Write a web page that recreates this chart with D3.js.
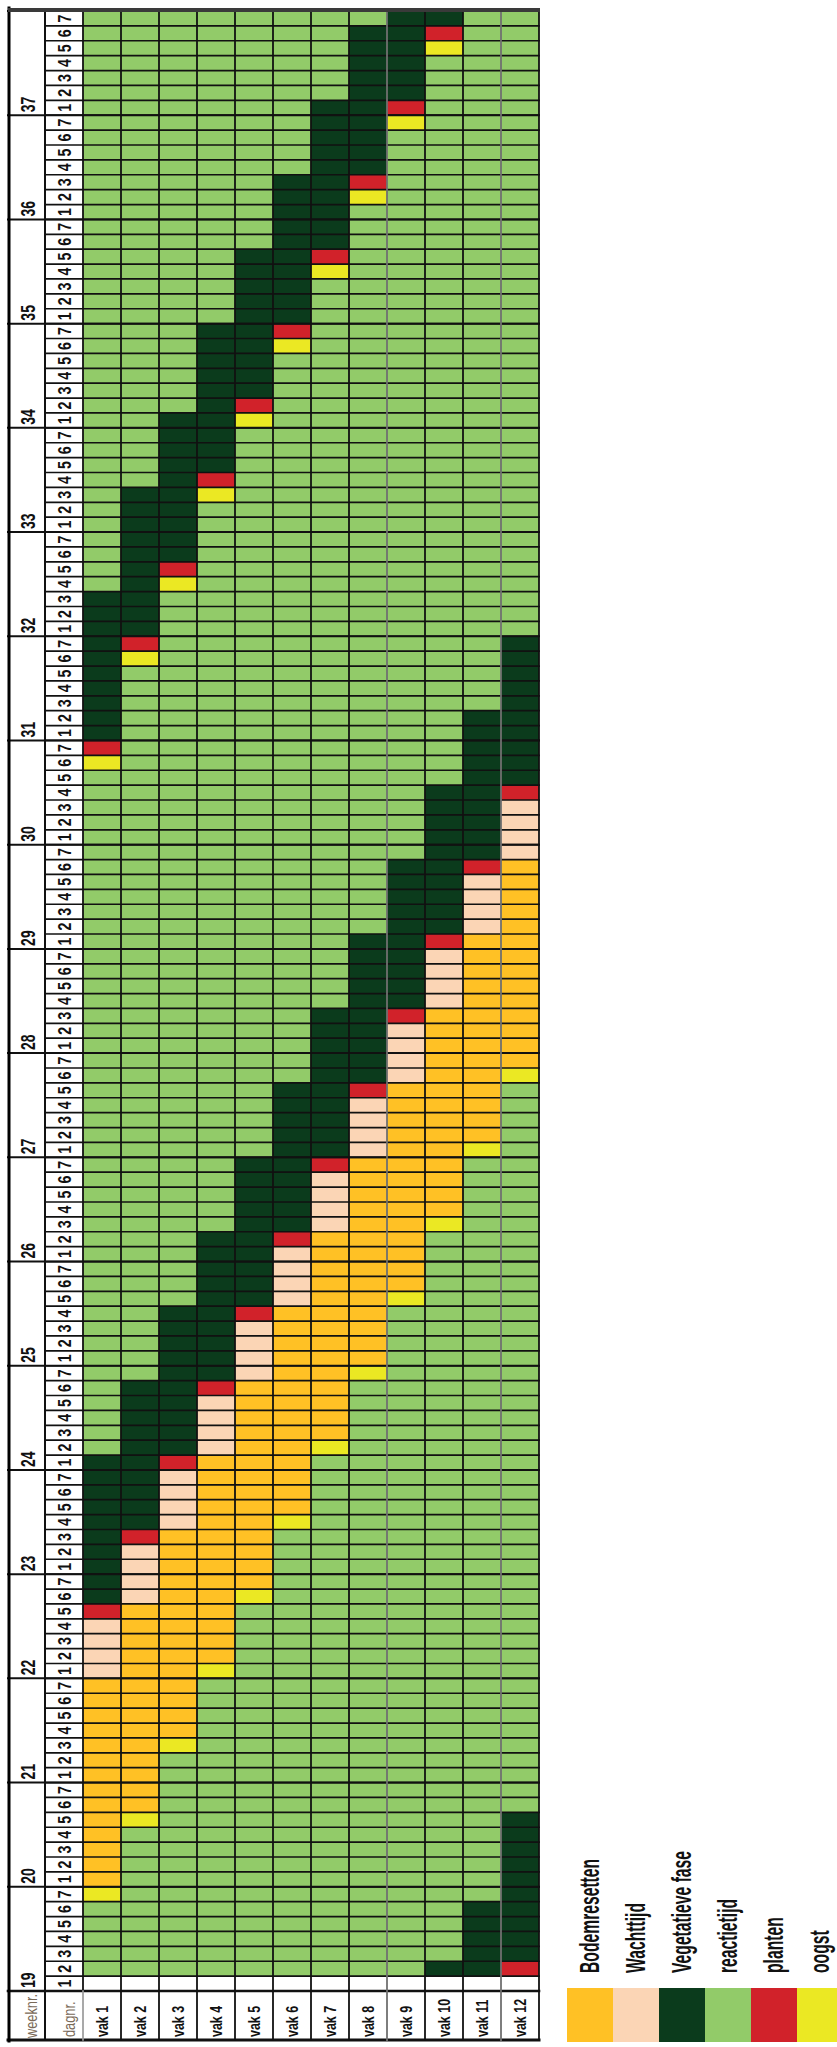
<!DOCTYPE html>
<html>
<head>
<meta charset="utf-8">
<script src="https://cdn.jsdelivr.net/npm/d3@7"></script>
<style>
  html, body { margin: 0; padding: 0; background: #ffffff; }
  svg { display: block; }
</style>
</head>
<body>
<svg id="chart" width="837" height="2047"></svg>
<script>
// ---------------- DATA ----------------
const vakNames = ["vak 1","vak 2","vak 3","vak 4","vak 5","vak 6","vak 7","vak 8","vak 9","vak 10","vak 11","vak 12"];
const weekNumbers = [19,20,21,22,23,24,25,26,27,28,29,30,31,32,33,34,35,36,37];
const dayNumbers = [1,2,3,4,5,6,7];
const headerWeek = "weeknr.";
const headerDay = "dagnr.";

// phase keys: B Bodemresetten, W Wachttijd, V Vegetatieve fase, R reactietijd, P planten, O oogst
const phaseKeys = ["B","W","V","R","P","O"];
const phaseLabels = ["Bodemresetten","Wachttijd","Vegetatieve fase","reactietijd","planten","oogst"];
const defaultPhase = "R";
const blankDays = ["19.1"];

// plans per vak: [phase, first day "week.day", last day "week.day"]
const vak1Plan  = [["O","19.7"],["B","20.1","21.7"],["W","22.1","22.4"],["P","22.5"],["V","22.6","24.1"],["O","30.6"],["P","30.7"],["V","31.1","32.3"]];
const vak2Plan  = [["O","20.5"],["B","20.6","22.5"],["W","22.6","23.2"],["P","23.3"],["V","23.4","24.6"],["O","31.6"],["P","31.7"],["V","32.1","33.3"]];
const vak3Plan  = [["O","21.3"],["B","21.4","23.3"],["W","23.4","23.7"],["P","24.1"],["V","24.2","25.4"],["O","32.4"],["P","32.5"],["V","32.6","34.1"]];
const vak4Plan  = [["O","22.1"],["B","22.2","24.1"],["W","24.2","24.5"],["P","24.6"],["V","24.7","26.2"],["O","33.3"],["P","33.4"],["V","33.5","34.7"]];
const vak5Plan  = [["O","22.6"],["B","22.7","24.6"],["W","24.7","25.3"],["P","25.4"],["V","25.5","26.7"],["O","34.1"],["P","34.2"],["V","34.3","35.5"]];
const vak6Plan  = [["O","23.4"],["B","23.5","25.4"],["W","25.5","26.1"],["P","26.2"],["V","26.3","27.5"],["O","34.6"],["P","34.7"],["V","35.1","36.3"]];
const vak7Plan  = [["O","24.2"],["B","24.3","26.2"],["W","26.3","26.6"],["P","26.7"],["V","27.1","28.3"],["O","35.4"],["P","35.5"],["V","35.6","37.1"]];
const vak8Plan  = [["O","24.7"],["B","25.1","26.7"],["W","27.1","27.4"],["P","27.5"],["V","27.6","29.1"],["O","36.2"],["P","36.3"],["V","36.4","37.6"]];
const vak9Plan  = [["O","25.5"],["B","25.6","27.5"],["W","27.6","28.2"],["P","28.3"],["V","28.4","29.6"],["O","36.7"],["P","37.1"],["V","37.2","37.7"]];
const vak10Plan = [["V","19.2"],["O","26.3"],["B","26.4","28.3"],["W","28.4","28.7"],["P","29.1"],["V","29.2","30.4"],["O","37.5"],["P","37.6"],["V","37.7"]];
const vak11Plan = [["V","19.2","19.6"],["O","27.1"],["B","27.2","29.1"],["W","29.2","29.5"],["P","29.6"],["V","29.7","31.2"]];
const vak12Plan = [["P","19.2"],["V","19.3","20.5"],["O","27.6"],["B","27.7","29.6"],["W","29.7","30.3"],["P","30.4"],["V","30.5","31.7"]];
const plans = [vak1Plan,vak2Plan,vak3Plan,vak4Plan,vak5Plan,vak6Plan,vak7Plan,vak8Plan,vak9Plan,vak10Plan,vak11Plan,vak12Plan];

// ---------------- STYLE ----------------
const phaseColors = {B:"#FFC125", W:"#FBD5B5", V:"#0B3B1C", R:"#92CB69", P:"#D1222A", O:"#EBE823", blank:"#FFFFFF"};
const lineColor = "#111111";
const grayLine = "#707070";

// ---------------- LAYOUT ----------------
const L = { left: 8, weekR: 45, dayR: 83, right: 539, top: 11, rowsBottom: 1991, headBottom: 2040 };

const dayIds = [];
weekNumbers.forEach(w => dayNumbers.forEach(d => dayIds.push(w + "." + d)));
const indexOf = id => dayIds.indexOf(id);

const y = d3.scaleBand().domain(dayIds.slice().reverse()).range([L.top, L.rowsBottom]);
const x = d3.scaleBand().domain(vakNames).range([L.dayR, L.right]);
const color = d3.scaleOrdinal().domain(phaseKeys.concat(["blank"])).range(phaseKeys.map(k => phaseColors[k]).concat([phaseColors.blank]));

const cells = [];
vakNames.forEach((v, i) => {
  const status = dayIds.map(() => defaultPhase);
  plans[i].forEach(([k, s, e]) => {
    const a = indexOf(s), b = indexOf(e || s);
    for (let j = a; j <= b; j++) status[j] = k;
  });
  blankDays.forEach(b => { status[indexOf(b)] = "blank"; });
  dayIds.forEach((id, j) => cells.push({ vak: v, id, k: status[j] }));
});

const svg = d3.select("#chart");
const font = "'Liberation Sans', Arial, sans-serif";

function rotText(g, px, py, txt, o) {
  return g.append("text")
    .attr("transform", `translate(${px},${py}) rotate(-90) scale(${o.sx},1)`)
    .attr("text-anchor", o.anchor || "start")
    .attr("font-family", font)
    .attr("font-size", o.size)
    .attr("font-weight", o.weight || "normal")
    .attr("fill", o.fill || "#111")
    .text(txt);
}

// backgrounds
svg.append("rect").attr("x", L.left).attr("y", L.top).attr("width", L.right - L.left).attr("height", L.headBottom - L.top).attr("fill", "#fff");

// cells
svg.append("g").selectAll("rect").data(cells).join("rect")
  .attr("x", d => x(d.vak))
  .attr("y", d => y(d.id))
  .attr("width", x.bandwidth())
  .attr("height", y.bandwidth())
  .attr("fill", d => color(d.k));

const lines = svg.append("g").attr("stroke-linecap", "square");

// row lines (day + vak area)
dayIds.forEach(id => {
  lines.append("line").attr("x1", L.weekR).attr("x2", L.right)
    .attr("y1", y(id)).attr("y2", y(id))
    .attr("stroke", lineColor).attr("stroke-width", 1.7);
});
// week boundaries (full width)
weekNumbers.forEach(w => {
  const yy = y(w + ".7");
  lines.append("line").attr("x1", L.left).attr("x2", L.right)
    .attr("y1", yy).attr("y2", yy)
    .attr("stroke", lineColor).attr("stroke-width", 2);
});
// header top and bottom
lines.append("line").attr("x1", L.left).attr("x2", L.right).attr("y1", L.rowsBottom).attr("y2", L.rowsBottom).attr("stroke", lineColor).attr("stroke-width", 2.6);
lines.append("line").attr("x1", L.left).attr("x2", L.right).attr("y1", L.headBottom).attr("y2", L.headBottom).attr("stroke", lineColor).attr("stroke-width", 3);

// vertical lines
const grayAfter = ["vak 8", "vak 11"];
vakNames.forEach((v, i) => {
  if (i === 0) return;
  const prev = vakNames[i - 1];
  lines.append("line").attr("x1", x(v)).attr("x2", x(v)).attr("y1", L.top).attr("y2", L.headBottom)
    .attr("stroke", grayAfter.includes(prev) ? grayLine : lineColor).attr("stroke-width", 1.8);
});
lines.append("line").attr("x1", L.dayR).attr("x2", L.dayR).attr("y1", L.top).attr("y2", L.rowsBottom).attr("stroke", lineColor).attr("stroke-width", 1.8);
lines.append("line").attr("x1", L.dayR).attr("x2", L.dayR).attr("y1", L.rowsBottom).attr("y2", L.headBottom).attr("stroke", "#9a9a9a").attr("stroke-width", 1.7);
lines.append("line").attr("x1", L.weekR).attr("x2", L.weekR).attr("y1", L.top).attr("y2", L.headBottom).attr("stroke", lineColor).attr("stroke-width", 2);
lines.append("line").attr("x1", L.right).attr("x2", L.right).attr("y1", L.top).attr("y2", L.headBottom).attr("stroke", lineColor).attr("stroke-width", 1.8);
lines.append("line").attr("x1", L.left + 1).attr("x2", L.left + 1).attr("y1", L.top - 3).attr("y2", L.headBottom + 1).attr("stroke", "#000").attr("stroke-width", 3);
// top band
svg.append("rect").attr("x", L.left).attr("y", L.top - 3).attr("width", L.right - L.left + 1).attr("height", 4).attr("fill", "#3a3a3a");

// labels
const txt = svg.append("g");
weekNumbers.forEach(w => {
  const yy = y(w + ".1") + y.bandwidth() - 3;
  rotText(txt, 35, yy, String(w), { size: 20, sx: 0.7, weight: "bold" });
});
dayIds.forEach(id => {
  const d = id.split(".")[1];
  rotText(txt, 71, y(id) + y.bandwidth() / 2, d, { size: 19, sx: 0.75, weight: "bold", anchor: "middle" });
});
rotText(txt, 37, L.headBottom - 2, headerWeek, { size: 16, sx: 0.8, fill: "#7a6a58" });
rotText(txt, 75, L.headBottom - 3, headerDay, { size: 16, sx: 0.8, fill: "#7a6a58" });
vakNames.forEach(v => {
  rotText(txt, x(v) + x.bandwidth() / 2 + 6, L.headBottom - 3, v, { size: 16, sx: 0.78, weight: "bold" });
});

// legend
const lx = d3.scaleBand().domain(phaseKeys).range([567, 843]);
const legend = svg.append("g");
legend.selectAll("rect").data(phaseKeys).join("rect")
  .attr("x", d => lx(d)).attr("y", 1988)
  .attr("width", lx.bandwidth() + 0.5).attr("height", 54)
  .attr("fill", d => color(d));
phaseKeys.forEach((k, i) => {
  rotText(legend, lx(k) + lx.bandwidth() / 2 + 9, 1973, phaseLabels[i], { size: 28, sx: 0.56, weight: "bold" });
});
</script>
</body>
</html>
